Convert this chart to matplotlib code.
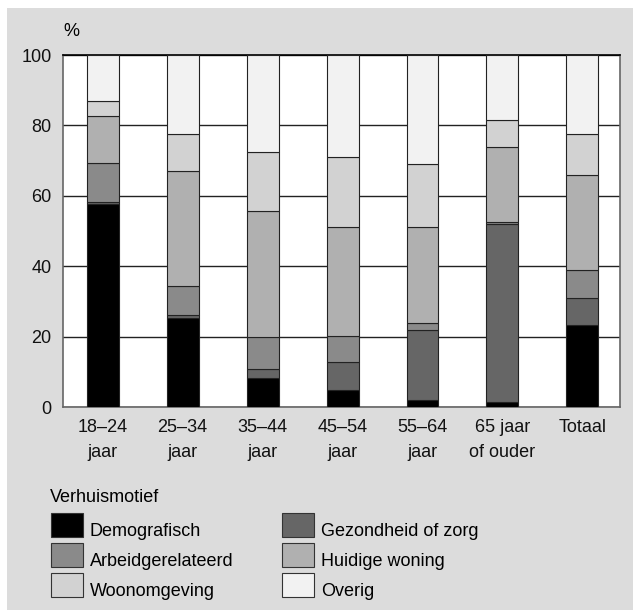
import numpy as np
import matplotlib.pyplot as plt
from matplotlib.patches import Rectangle

plt.rcParams['font.family'] = ['Liberation Sans', 'DejaVu Sans']

groups = ['18\u201324\njaar', '25\u201334\njaar', '35\u201344\njaar', '45\u201354\njaar',
          '55\u201364\njaar', '65 jaar\nof ouder', 'Totaal']

# Shares per moving motive (%), stacked bottom to top.
demografisch = [57.8, 25.3, 8.1, 4.9, 2.1, 1.4, 23.3]
gezondheid = [0.5, 0.7, 2.6, 7.8, 19.9, 50.6, 7.6]
arbeid = [11.0, 8.5, 9.2, 7.5, 2.0, 0.6, 7.9]
huidige_woning = [13.5, 32.5, 35.7, 30.8, 27.2, 21.4, 27.1]
woonomgeving = [4.0, 10.6, 16.8, 19.9, 17.7, 7.4, 11.7]
overig = [13.2, 22.4, 27.6, 29.1, 31.1, 18.6, 22.4]

series = [demografisch, gezondheid, arbeid, huidige_woning, woonomgeving, overig]
names = ['Demografisch', 'Gezondheid of zorg', 'Arbeidgerelateerd',
         'Huidige woning', 'Woonomgeving', 'Overig']
colors = ['#000000', '#666666', '#8a8a8a', '#b0b0b0', '#d2d2d2', '#f2f2f2']

W, H = 633, 610
fig = plt.figure(figsize=(W / 100, H / 100), dpi=100, facecolor='white')
fig.add_artist(Rectangle((7 / W, 0), 1, 1 - 8 / H, transform=fig.transFigure,
                         facecolor='#dcdcdc', edgecolor='none', zorder=-10))

ax = fig.add_axes([62.7 / W, (H - 407) / H, (620 - 62.7) / W, (407 - 55) / H])
ax.set_facecolor('white')

x = np.arange(len(groups))
bottom = np.zeros(len(groups))
for vals, name, c in zip(series, names, colors):
    ax.bar(x, vals, 0.4, bottom=bottom, color=c, edgecolor='#222222',
           linewidth=0.8, zorder=3, label=name)
    bottom += np.array(vals)

ax.set_xlim(-0.5, 6.47)
ax.set_ylim(0, 100)
ax.set_yticks([0, 20, 40, 60, 80, 100])
ax.set_xticks(x)
ax.set_xticklabels(groups, linespacing=1.55)
ax.tick_params(axis='both', length=0, labelsize=13, colors='#111111')
ax.tick_params(axis='y', pad=8)
ax.tick_params(axis='x', pad=9)
ax.yaxis.grid(True, color='#222222', linewidth=1, zorder=1)
ax.set_axisbelow(True)
for s in ['left', 'bottom', 'right']:
    ax.spines[s].set_color('#666666')
    ax.spines[s].set_linewidth(1.2)
ax.spines['top'].set_color('#000000')
ax.spines['top'].set_linewidth(1.2)

fig.text(71 / W, 1 - 32 / H, '%', ha='center', va='center', fontsize=13)

# legend, laid out by hand in two columns
fig.text(50 / W, 1 - 498 / H, 'Verhuismotief', ha='left', va='center', fontsize=13)
order = [0, 2, 4, 1, 3, 5]
for k, i in enumerate(order):
    col, row = divmod(k, 3)
    px = 50.7 + col * 231
    py = 513 + row * 30
    fig.add_artist(Rectangle((px / W, 1 - (py + 24) / H), 32 / W, 24 / H,
                             transform=fig.transFigure, facecolor=colors[i],
                             edgecolor='#333333', linewidth=0.8))
    fig.text((px + 39) / W, 1 - (py + 18) / H, names[i], ha='left', va='center',
             fontsize=13)

fig.savefig('out.png', dpi=100, facecolor=fig.get_facecolor())
